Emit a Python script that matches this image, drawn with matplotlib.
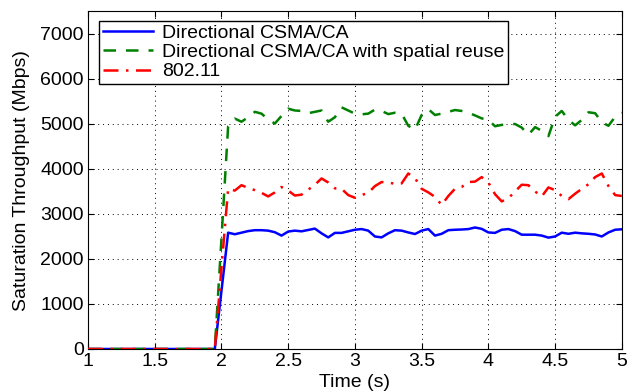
import numpy as np
import matplotlib
matplotlib.use("Agg")
import matplotlib.pyplot as plt
import matplotlib.ticker as mticker

plt.rcParams["font.family"] = ["Liberation Sans", "DejaVu Sans"]

# time axis: 1.0 .. 5.0 s in 0.05 s steps
time_s = np.round(np.arange(1.0, 5.0001, 0.05), 2)

# values before the traffic starts (1.00 .. 1.95 s) are all zero
n_idle = 20

# value at 2.00 s, then 2.05 .. 5.00 s
dir_csma = [0] * n_idle + [1290,
    2585, 2550, 2585, 2620, 2640, 2640, 2630, 2595, 2520, 2610,
    2630, 2615, 2645, 2675, 2570, 2480, 2580, 2580, 2615, 2650,
    2665, 2630, 2500, 2480, 2570, 2640, 2630, 2590, 2555, 2630,
    2665, 2520, 2560, 2640, 2650, 2655, 2665, 2700, 2670, 2590,
    2580, 2650, 2665, 2620, 2540, 2540, 2540, 2520, 2475, 2500,
    2585, 2560, 2585, 2570, 2560, 2545, 2500, 2590, 2650, 2660]

dir_csma_reuse = [0] * n_idle + [2450,
    4950, 5120, 5050, 5150, 5270, 5230, 5100, 5010, 5180, 5340,
    5300, 5290, 5240, 5270, 5300, 5050, 5150, 5370, 5300, 5230,
    5215, 5230, 5320, 5290, 5220, 5250, 5230, 4960, 4870, 5200,
    5330, 5200, 5230, 5270, 5310, 5290, 5250, 5190, 5125, 5090,
    4950, 4980, 4990, 5000, 4920, 4760, 4930, 4850, 4730, 5160,
    5290, 5090, 4970, 5090, 5260, 5240, 5040, 4960, 5160, 5250]

dot11 = [0] * n_idle + [1800,
    3560, 3520, 3640, 3580, 3530, 3470, 3390, 3480, 3600, 3520,
    3410, 3430, 3540, 3650, 3790, 3700, 3570, 3560, 3420, 3360,
    3420, 3470, 3620, 3710, 3700, 3670, 3680, 3900, 3800, 3560,
    3480, 3380, 3200, 3400, 3560, 3600, 3710, 3720, 3820, 3700,
    3440, 3280, 3350, 3500, 3650, 3640, 3500, 3390, 3590, 3530,
    3400, 3330, 3450, 3560, 3660, 3820, 3900, 3620, 3420, 3400]

labels = ["Directional CSMA/CA",
          "Directional CSMA/CA with spatial reuse",
          "802.11"]

FS = 14

fig = plt.figure(figsize=(6.3, 3.92), dpi=100)
ax = fig.add_axes([0.1397, 0.1097, 0.8473, 0.861])

ax.plot(time_s, dir_csma, "-", color="#0000ff", lw=1.8, label=labels[0], zorder=3)
ax.plot(time_s, dir_csma_reuse, "--", color="#008000", lw=1.8, label=labels[1],
        dashes=(5, 4), zorder=3)
ax.plot(time_s, dot11, "-.", color="#ff0000", lw=1.8, label=labels[2],
        dashes=(6, 3, 1, 3), zorder=3)

ax.set_xlim(1, 5)
ax.set_ylim(0, 7500)
ax.set_xticks(np.arange(1, 5.01, 0.5))
ax.set_yticks(np.arange(0, 7001, 1000))
ax.xaxis.set_major_formatter(mticker.FuncFormatter(lambda x, _: f"{x:g}"))
ax.grid(True, ls=(0, (1, 4)), color="k", lw=0.7)
ax.tick_params(direction="in", top=True, right=True, labelsize=FS, length=4, pad=3)
ax.set_xlabel("Time (s)", fontsize=FS, labelpad=3)
ax.set_ylabel("Saturation Throughput (Mbps)", fontsize=FS, labelpad=7)

leg = ax.legend(loc="upper left", bbox_to_anchor=(0.021, 0.972), borderaxespad=0,
                fontsize=FS, handlelength=2.6, labelspacing=0.08,
                handletextpad=0.45, fancybox=False, framealpha=1,
                edgecolor="k", borderpad=0.18)
leg.get_frame().set_linewidth(1.0)

fig.savefig("out.png", dpi=100)
